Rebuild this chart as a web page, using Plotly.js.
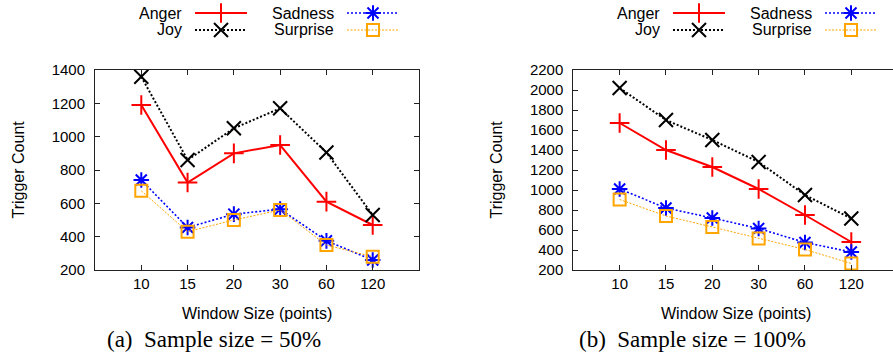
<!DOCTYPE html>
<html>
<head>
<meta charset="utf-8">
<script src="https://cdn.plot.ly/plotly-3.0.1.min.js"></script>
<style>
  html, body { margin: 0; padding: 0; background: #fff; }
  #chart { width: 893px; height: 363px; }
</style>
</head>
<body>
<div id="chart"></div>
<script>
// ---- data ----
const categories = ['10', '15', '20', '30', '60', '120'];
const seriesNames = ['Anger', 'Joy', 'Sadness', 'Surprise'];
// (a) Sample size = 50%
const anger50    = [1190, 725, 900, 950, 610, 470];
const joy50      = [1360, 860, 1050, 1170, 905, 530];
const sadness50  = [740, 455, 535, 565, 375, 260];
const surprise50 = [675, 430, 500, 560, 350, 280];
// (b) Sample size = 100%
const anger100    = [1670, 1400, 1230, 1010, 750, 480];
const joy100      = [2020, 1700, 1500, 1280, 950, 715];
const sadness100  = [1010, 820, 720, 615, 475, 380];
const surprise100 = [905, 740, 630, 515, 405, 265];
const yTicks50  = [200, 400, 600, 800, 1000, 1200, 1400];
const yTicks100 = [200, 400, 600, 800, 1000, 1200, 1400, 1600, 1800, 2000, 2200];
const captions = ['(a)\u2002Sample size = 50%', '(b)\u2002Sample size = 100%'];

// ---- styles ----
const W = 893, H = 363;
const SANS = 'Liberation Sans, Arial, sans-serif';
const SERIF = 'Liberation Serif, Times New Roman, serif';
const styles = {
  Anger:    { line: { color: '#ff0000', width: 2, dash: 'solid' },
              marker: { symbol: 'cross-thin', size: 14, line: { color: '#ff0000', width: 2 } } },
  Joy:      { line: { color: '#000000', width: 2, dash: '2px,2px' },
              marker: { symbol: 'x-thin', size: 14, line: { color: '#000000', width: 2 } } },
  Sadness:  { line: { color: '#0000ff', width: 1.6, dash: '2px,2px' },
              marker: { symbol: 'asterisk', size: 13, line: { color: '#0000ff', width: 2 } } },
  Surprise: { line: { color: '#ffa500', width: 1, dash: '2px,1.5px' },
              marker: { symbol: 'square-open', size: 12, color: '#ffa500', line: { color: '#ffa500', width: 2 } } }
};

const xIdx = categories.map((_, i) => i);
function mk(name, y, xa, ya) {
  const s = styles[name];
  return {
    type: 'scatter', mode: 'lines+markers', name: name,
    x: xIdx, y: y, xaxis: xa, yaxis: ya,
    line: s.line, marker: Object.assign({ color: 'rgba(0,0,0,0)' }, s.marker),
    showlegend: false, hoverinfo: 'skip'
  };
}

const data50 = { Anger: anger50, Joy: joy50, Sadness: sadness50, Surprise: surprise50 };
const data100 = { Anger: anger100, Joy: joy100, Sadness: sadness100, Surprise: surprise100 };
const traces = [];
seriesNames.forEach(n => traces.push(mk(n, data50[n], 'x', 'y')));
seriesNames.forEach(n => traces.push(mk(n, data100[n], 'x2', 'y2')));

// ---- manual legend (text left of key, gnuplot style) ----
const legendRows = [
  { name: 'Anger', col: 0, row: 0 }, { name: 'Joy', col: 0, row: 1 },
  { name: 'Sadness', col: 1, row: 0 }, { name: 'Surprise', col: 1, row: 1 }
];
const annotations = [];
[0, 478].forEach(off => {
  legendRows.forEach(r => {
    const textRight = off + (r.col === 0 ? 184 : 336);
    const yc = r.row === 0 ? 13 : 30;
    annotations.push({
      xref: 'paper', yref: 'paper', x: textRight / W, y: 1 - yc / H,
      xanchor: 'right', yanchor: 'middle', showarrow: false,
      text: r.name, font: { family: SANS, size: 16, color: '#000' }
    });
    const s = styles[r.name];
    const x0 = textRight + 11, x1 = textRight + 63;
    traces.push({
      type: 'scatter', mode: 'lines', x: [x0, x1], y: [yc, yc],
      xaxis: 'x3', yaxis: 'y3', line: s.line, showlegend: false, hoverinfo: 'skip'
    });
    traces.push({
      type: 'scatter', mode: 'markers', x: [(x0 + x1) / 2], y: [yc],
      xaxis: 'x3', yaxis: 'y3', marker: Object.assign({ color: 'rgba(0,0,0,0)' }, s.marker),
      showlegend: false, hoverinfo: 'skip'
    });
  });
});

// axis titles and captions
const plotTop = 70, plotBot = 270;
[[17.5, 257, 213.5, 0], [495.5, 736, 692.5, 1]].forEach(([ytx, xtx, cap, i]) => {
  annotations.push({
    xref: 'paper', yref: 'paper', x: ytx / W, y: 1 - (plotTop + plotBot) / 2 / H,
    xanchor: 'center', yanchor: 'middle', textangle: -90, showarrow: false,
    text: 'Trigger Count', font: { family: SANS, size: 16, color: '#000' }
  });
  annotations.push({
    xref: 'paper', yref: 'paper', x: xtx / W, y: 1 - 313 / H,
    xanchor: 'center', yanchor: 'middle', showarrow: false,
    text: 'Window Size (points)', font: { family: SANS, size: 16, color: '#000' }
  });
  annotations.push({
    xref: 'paper', yref: 'paper', x: cap / W, y: 1 - 339 / H,
    xanchor: 'center', yanchor: 'middle', showarrow: false,
    text: captions[i], font: { family: SERIF, size: 23, color: '#000' }
  });
});

const yDom = [1 - plotBot / H, 1 - plotTop / H];
const axCommon = {
  showgrid: false, zeroline: false, showline: true, linecolor: '#222', linewidth: 1,
  ticks: 'inside', ticklen: 5, tickwidth: 1, tickcolor: '#222',
  tickfont: { family: SANS, size: 15, color: '#000' }, automargin: false
};
const layout = {
  width: W, height: H,
  margin: { l: 0, r: 0, t: 0, b: 0, pad: 0 },
  paper_bgcolor: '#fff', plot_bgcolor: 'rgba(0,0,0,0)',
  showlegend: false,
  xaxis: Object.assign({}, axCommon, {
    domain: [95 / W, 419 / W], range: [-1, 6], tickmode: 'array',
    tickvals: xIdx, ticktext: categories, mirror: 'allticks', anchor: 'y'
  }),
  yaxis: Object.assign({}, axCommon, {
    domain: yDom, range: [200, 1400], tickmode: 'array', tickvals: yTicks50,
    mirror: 'allticks', anchor: 'x', ticklabelstandoff: 6
  }),
  xaxis2: Object.assign({}, axCommon, {
    domain: [573.3 / W, 1], range: [-1, 5.9], tickmode: 'array',
    tickvals: xIdx, ticktext: categories, mirror: 'allticks', anchor: 'y2'
  }),
  yaxis2: Object.assign({}, axCommon, {
    domain: yDom, range: [200, 2200], tickmode: 'array', tickvals: yTicks100,
    mirror: false, anchor: 'x2', ticklabelstandoff: 6
  }),
  xaxis3: { domain: [0, 1], range: [0, W], visible: false, anchor: 'y3', fixedrange: true },
  yaxis3: { domain: [0, 1], range: [H, 0], visible: false, anchor: 'x3', fixedrange: true },
  annotations: annotations
};

Plotly.newPlot('chart', traces, layout, { staticPlot: true, displayModeBar: false });
</script>
</body>
</html>
